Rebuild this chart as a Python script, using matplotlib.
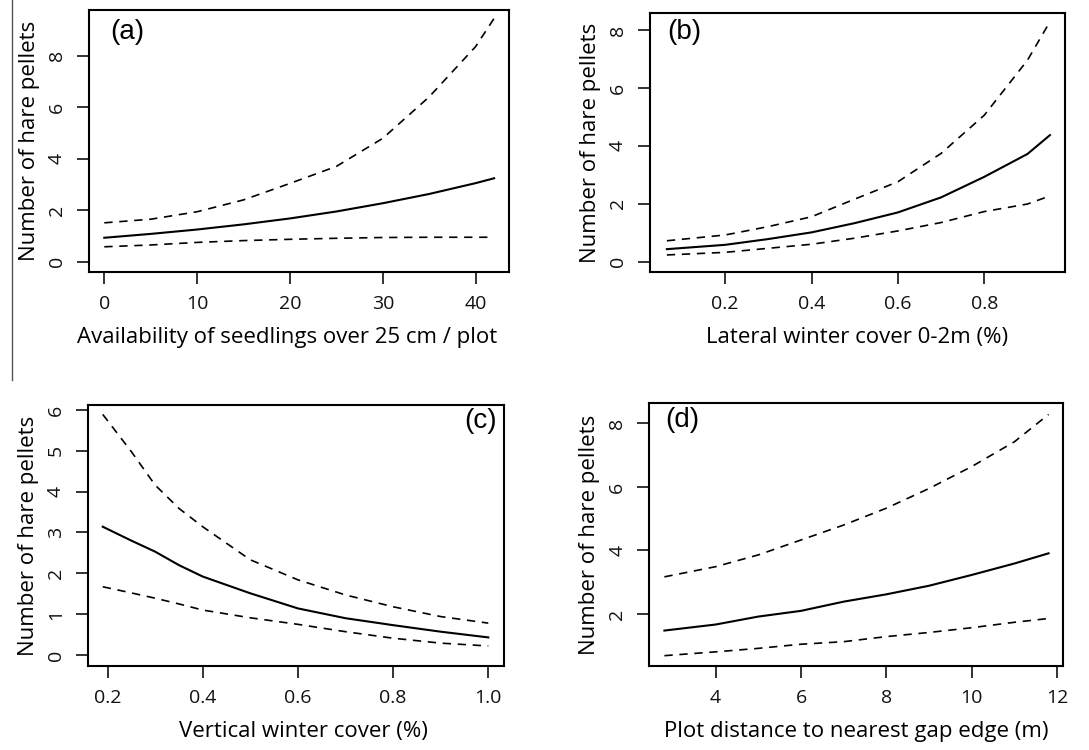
import matplotlib
matplotlib.use("Agg")
import matplotlib.pyplot as plt
from matplotlib.lines import Line2D

plt.rcParams["font.family"] = ["Open Sans", "DejaVu Sans"]

ylab = "Number of hare pellets"

# (a) seedlings over 25 cm
a_x = [0, 5, 10, 15, 20, 25, 30, 35, 40, 42]
a_fit = [0.93, 1.08, 1.25, 1.45, 1.68, 1.95, 2.27, 2.63, 3.05, 3.24]
a_hi = [1.51, 1.65, 1.94, 2.40, 3.04, 3.70, 4.79, 6.40, 8.35, 9.45]
a_lo = [0.58, 0.65, 0.75, 0.82, 0.87, 0.91, 0.94, 0.95, 0.95, 0.95]

# (b) lateral winter cover
b_x = [0.065, 0.2, 0.3, 0.4, 0.5, 0.6, 0.7, 0.8, 0.9, 0.952]
b_fit = [0.43, 0.58, 0.78, 1.01, 1.33, 1.70, 2.22, 2.93, 3.72, 4.37]
b_hi = [0.72, 0.92, 1.21, 1.55, 2.16, 2.76, 3.74, 5.06, 6.96, 8.29]
b_lo = [0.23, 0.32, 0.46, 0.60, 0.81, 1.06, 1.35, 1.73, 1.99, 2.27]

# (c) vertical winter cover
c_x = [0.19, 0.25, 0.3, 0.35, 0.4, 0.5, 0.6, 0.7, 0.8, 0.9, 1.0]
c_fit = [3.14, 2.80, 2.53, 2.20, 1.92, 1.51, 1.14, 0.90, 0.73, 0.57, 0.43]
c_hi = [5.89, 4.98, 4.16, 3.59, 3.14, 2.33, 1.84, 1.47, 1.18, 0.94, 0.78]
c_lo = [1.67, 1.52, 1.39, 1.25, 1.10, 0.91, 0.75, 0.57, 0.41, 0.29, 0.22]

# (d) distance to gap edge
d_x = [2.8, 4, 5, 6, 7, 8, 9, 10, 11, 11.8]
d_fit = [1.48, 1.67, 1.92, 2.10, 2.39, 2.62, 2.89, 3.23, 3.59, 3.91]
d_hi = [3.17, 3.49, 3.86, 4.33, 4.80, 5.33, 5.95, 6.64, 7.42, 8.28]
d_lo = [0.69, 0.81, 0.92, 1.05, 1.13, 1.29, 1.42, 1.57, 1.74, 1.86]

panels = [
    dict(rect=[0.0817, 0.6373, 0.3857, 0.3493], x=a_x, fit=a_fit, hi=a_hi, lo=a_lo,
         xlim=(-1.65, 43.6), ylim=(-0.4, 9.77), xticks=[0, 10, 20, 30, 40],
         yticks=[0, 2, 4, 6, 8], fmt="{:g}",
         xlabel="Availability of seedlings over 25 cm / plot", xlabel_x=0.471,
         tag="(a)", tagpos=(0.05, 0.965), tagha="left"),
    dict(rect=[0.5969, 0.6373, 0.3811, 0.3453], x=b_x, fit=b_fit, hi=b_hi, lo=b_lo,
         xlim=(0.026, 0.987), ylim=(-0.36, 8.59), xticks=[0.2, 0.4, 0.6, 0.8],
         yticks=[0, 2, 4, 6, 8], fmt="{:.1f}",
         xlabel="Lateral winter cover 0-2m (%)", xlabel_x=0.5,
         tag="(b)", tagpos=(0.041, 0.978), tagha="left"),
    dict(rect=[0.0808, 0.112, 0.382, 0.348], x=c_x, fit=c_fit, hi=c_hi, lo=c_lo,
         xlim=(0.159, 1.033), ylim=(-0.27, 6.12), xticks=[0.2, 0.4, 0.6, 0.8, 1.0],
         yticks=[0, 1, 2, 3, 4, 5, 6], fmt="{:.1f}",
         xlabel="Vertical winter cover (%)", xlabel_x=0.519,
         tag="(c)", tagpos=(0.983, 0.99), tagha="right"),
    dict(rect=[0.596, 0.112, 0.3802, 0.3507], x=d_x, fit=d_fit, hi=d_hi, lo=d_lo,
         xlim=(2.44, 12.14), ylim=(0.365, 8.64), xticks=[4, 6, 8, 10, 12],
         yticks=[2, 4, 6, 8], fmt="{:g}",
         xlabel="Plot distance to nearest gap edge (m)", xlabel_x=0.5,
         tag="(d)", tagpos=(0.039, 0.985), tagha="left"),
]

fig = plt.figure(figsize=(10.89, 7.5), dpi=100)

for p in panels:
    ax = fig.add_axes(p["rect"])
    ax.plot(p["x"], p["fit"], color="black", lw=1.5)
    for band in (p["hi"], p["lo"]):
        ax.plot(p["x"], band, color="black", lw=1.2, linestyle=(0, (5, 4)))
    ax.set_xlim(*p["xlim"])
    ax.set_ylim(*p["ylim"])
    ax.set_xticks(p["xticks"])
    ax.set_xticklabels([p["fmt"].format(t) for t in p["xticks"]])
    ax.set_yticks(p["yticks"])
    ax.set_yticklabels([str(t) for t in p["yticks"]], rotation=90, va="center")
    ax.tick_params(direction="out", length=8.5, width=1.2, labelsize=14,
                   colors="#111111", pad=8)
    for s in ax.spines.values():
        s.set_linewidth(1.5)
    ax.set_xlabel(p["xlabel"], fontsize=16, labelpad=10)
    ax.xaxis.label.set_x(p["xlabel_x"])
    ax.set_ylabel(ylab, fontsize=16, labelpad=6)
    ax.text(p["tagpos"][0], p["tagpos"][1], p["tag"], transform=ax.transAxes,
            fontsize=20, ha=p["tagha"], va="top",
            family=["Liberation Sans", "DejaVu Sans"])

# thin rule down the left margin
fig.add_artist(Line2D([0.011, 0.011], [1.0, 0.493], transform=fig.transFigure,
                      color="#555555", lw=1))

fig.savefig("out.png", dpi=100)
